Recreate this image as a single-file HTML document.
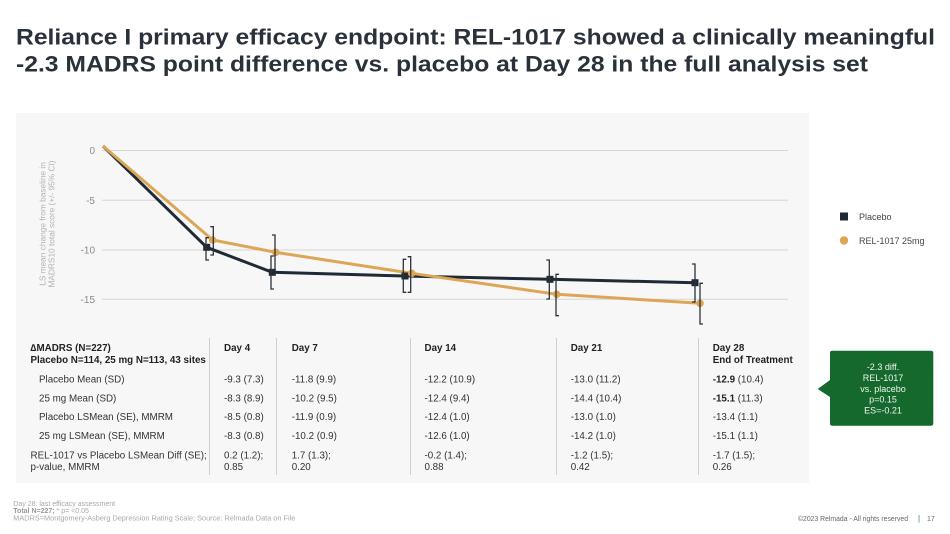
<!DOCTYPE html>
<html><head><meta charset="utf-8"><style>
html,body{margin:0;padding:0;background:#fff;}
svg{display:block;}
text{font-family:"Liberation Sans",Arial,sans-serif;}
</style></head><body>
<svg width="950" height="534" viewBox="0 0 950 534" xmlns="http://www.w3.org/2000/svg">
<rect width="950" height="534" fill="#fff"/>
<!-- Title -->
<text x="16" y="44.5" font-size="22.5" font-weight="bold" fill="#2a313a" textLength="919" lengthAdjust="spacingAndGlyphs">Reliance I primary efficacy endpoint: REL-1017 showed a clinically meaningful</text>
<text x="16" y="71.5" font-size="22.5" font-weight="bold" fill="#2a313a" textLength="852" lengthAdjust="spacingAndGlyphs">-2.3 MADRS point difference vs. placebo at Day 28 in the full analysis set</text>

<!-- Panel -->
<rect x="16" y="113" width="793" height="370" fill="#f7f7f7"/>

<!-- grid -->
<g stroke="#d6d6d6" stroke-width="1">
<line x1="102" y1="150.5" x2="788" y2="150.5"/>
<line x1="102" y1="200.3" x2="788" y2="200.3"/>
<line x1="102" y1="250" x2="788" y2="250"/>
<line x1="102" y1="299.3" x2="788" y2="299.3"/>
</g>
<g font-size="10" fill="#8a8a8a" text-anchor="end">
<text x="95" y="154">0</text>
<text x="95" y="204">-5</text>
<text x="95" y="253.5">-10</text>
<text x="95" y="303">-15</text>
</g>
<g font-size="8.3" fill="#b3b3b3" text-anchor="middle">
<text transform="translate(45.5,224) rotate(-90)">LS mean change from baseline in</text>
<text transform="translate(54.5,224) rotate(-90)">MADRS10 total score (+/- 95% CI)</text>
</g>

<!-- series -->
<polyline points="103,146 206.7,247.3 272.3,272.3 405,276 550,279.3 695,282.7" fill="none" stroke="#1f2a36" stroke-width="3" stroke-linejoin="round"/>
<polyline points="103,146 212.7,240 275.7,252.3 411.7,273.3 556.7,294.3 700,303.3" fill="none" stroke="#dca656" stroke-width="3" stroke-linejoin="round"/>
<g fill="#1f2a36">
<rect x="203.2" y="243.8" width="7" height="7"/>
<rect x="268.8" y="268.8" width="7" height="7"/>
<rect x="401.5" y="272.5" width="7" height="7"/>
<rect x="546.5" y="275.8" width="7" height="7"/>
<rect x="691.5" y="279.2" width="7" height="7"/>
</g>
<g fill="#dca656">
<circle cx="212.7" cy="240" r="3.8"/>
<circle cx="275.7" cy="252.3" r="3.8"/>
<circle cx="411.7" cy="273.3" r="3.8"/>
<circle cx="556.7" cy="294.3" r="3.8"/>
<circle cx="700" cy="303.3" r="3.8"/>
</g>
<!-- error bars -->
<g fill="none" stroke="#2d3238" stroke-width="1.3">
<polyline points="209,237.7 206,237.7 206,260 209,260"/>
<polyline points="274,256 271,256 271,289 274,289"/>
<polyline points="406.3,259.3 403.3,259.3 403.3,292.3 406.3,292.3"/>
<polyline points="546.3,260 549.3,260 549.3,299 546.3,299"/>
<polyline points="692,264 695,264 695,302 692,302"/>
<polyline points="210.3,226.7 213.3,226.7 213.3,255 210.3,255"/>
<polyline points="272,235 275,235 275,270 272,270"/>
<polyline points="407.7,256.7 410.7,256.7 410.7,292.3 407.7,292.3"/>
<polyline points="559,274.3 556,274.3 556,315.7 559,315.7"/>
<polyline points="703,283.3 700,283.3 700,324 703,324"/>
</g>

<!-- legend -->
<rect x="840" y="212.5" width="8" height="8" fill="#1f2a36"/>
<text x="859" y="220" font-size="9" fill="#444">Placebo</text>
<circle cx="844" cy="240.5" r="4.2" fill="#dca656"/>
<text x="859" y="244" font-size="9" fill="#444">REL-1017 25mg</text>

<!-- table separators -->
<g stroke="#cfcfcf" stroke-width="1">
<line x1="209.5" y1="338" x2="209.5" y2="475"/>
<line x1="276.5" y1="338" x2="276.5" y2="475"/>
<line x1="410.5" y1="338" x2="410.5" y2="475"/>
<line x1="556.5" y1="338" x2="556.5" y2="475"/>
<line x1="698.5" y1="338" x2="698.5" y2="475"/>
</g>
<g font-size="9.8" fill="#222">
<g font-weight="bold">
<text x="30.5" y="350.8">∆MADRS (N=227)</text>
<text x="30.5" y="362.8">Placebo N=114, 25 mg N=113, 43 sites</text>
<text x="224" y="350.8">Day 4</text>
<text x="291.7" y="350.8">Day 7</text>
<text x="424.5" y="350.8">Day 14</text>
<text x="570.7" y="350.8">Day 21</text>
<text x="712.7" y="350.8">Day 28</text>
<text x="712.7" y="362.8">End of Treatment</text>
</g>
<g fill="#333">
<text x="39" y="382.5">Placebo Mean (SD)</text>
<text x="39" y="401.5">25 mg  Mean (SD)</text>
<text x="39" y="420.2">Placebo LSMean (SE), MMRM</text>
<text x="39" y="439.2">25 mg LSMean (SE), MMRM</text>
<text x="30.5" y="458.5">REL-1017 vs Placebo LSMean Diff (SE);</text>
<text x="30.5" y="469.8">p-value, MMRM</text>

<text x="224" y="382.5">-9.3 (7.3)</text>
<text x="224" y="401.5">-8.3 (8.9)</text>
<text x="224" y="420.2">-8.5 (0.8)</text>
<text x="224" y="439.2">-8.3 (0.8)</text>
<text x="224" y="458.5">0.2 (1.2);</text>
<text x="224" y="469.8">0.85</text>

<text x="291.7" y="382.5">-11.8 (9.9)</text>
<text x="291.7" y="401.5">-10.2 (9.5)</text>
<text x="291.7" y="420.2">-11.9 (0.9)</text>
<text x="291.7" y="439.2">-10.2 (0.9)</text>
<text x="291.7" y="458.5">1.7 (1.3);</text>
<text x="291.7" y="469.8">0.20</text>

<text x="424.5" y="382.5">-12.2 (10.9)</text>
<text x="424.5" y="401.5">-12.4 (9.4)</text>
<text x="424.5" y="420.2">-12.4 (1.0)</text>
<text x="424.5" y="439.2">-12.6 (1.0)</text>
<text x="424.5" y="458.5">-0.2 (1.4);</text>
<text x="424.5" y="469.8">0.88</text>

<text x="570.7" y="382.5">-13.0 (11.2)</text>
<text x="570.7" y="401.5">-14.4 (10.4)</text>
<text x="570.7" y="420.2">-13.0 (1.0)</text>
<text x="570.7" y="439.2">-14.2 (1.0)</text>
<text x="570.7" y="458.5">-1.2 (1.5);</text>
<text x="570.7" y="469.8">0.42</text>

<text x="712.7" y="382.5"><tspan font-weight="bold" fill="#222">-12.9</tspan> (10.4)</text>
<text x="712.7" y="401.5"><tspan font-weight="bold" fill="#222">-15.1</tspan> (11.3)</text>
<text x="712.7" y="420.2">-13.4 (1.1)</text>
<text x="712.7" y="439.2">-15.1 (1.1)</text>
<text x="712.7" y="458.5">-1.7 (1.5);</text>
<text x="712.7" y="469.8">0.26</text>
</g>
</g>

<!-- callout -->
<path d="M832,350.7 H931 Q933.3,350.7 933.3,353 V423.5 Q933.3,425.7 931,425.7 H832 Q830,425.7 830,423.5 V397 L817.7,389 L830,380 V353 Q830,350.7 832,350.7 Z" fill="#15692c"/>
<g font-size="9" fill="#eef4ee" text-anchor="middle">
<text x="883" y="370">-2.3 diff.</text>
<text x="883" y="381">REL-1017</text>
<text x="883" y="392">vs. placebo</text>
<text x="883" y="402.5">p=0.15</text>
<text x="883" y="413.3">ES=-0.21</text>
</g>

<!-- footnotes -->
<g font-size="7" fill="#a8a8a8">
<text x="13.3" y="505.8">Day 28: last efficacy assessment</text>
<text x="13.3" y="513"><tspan font-weight="bold" fill="#9a9a9a">Total N=227;</tspan> * p= &lt;0.05</text>
<text x="13.3" y="520.3" textLength="282" lengthAdjust="spacingAndGlyphs">MADRS=Montgomery-Asberg Depression Rating Scale; Source: Relmada Data on File</text>
</g>
<text x="798" y="521" font-size="7" fill="#666" textLength="110" lengthAdjust="spacingAndGlyphs">©2023 Relmada - All rights reserved</text>
<text x="918" y="521" font-size="8" fill="#2e8b3e">|</text>
<text x="927" y="521" font-size="7" fill="#666">17</text>
</svg>
</body></html>
